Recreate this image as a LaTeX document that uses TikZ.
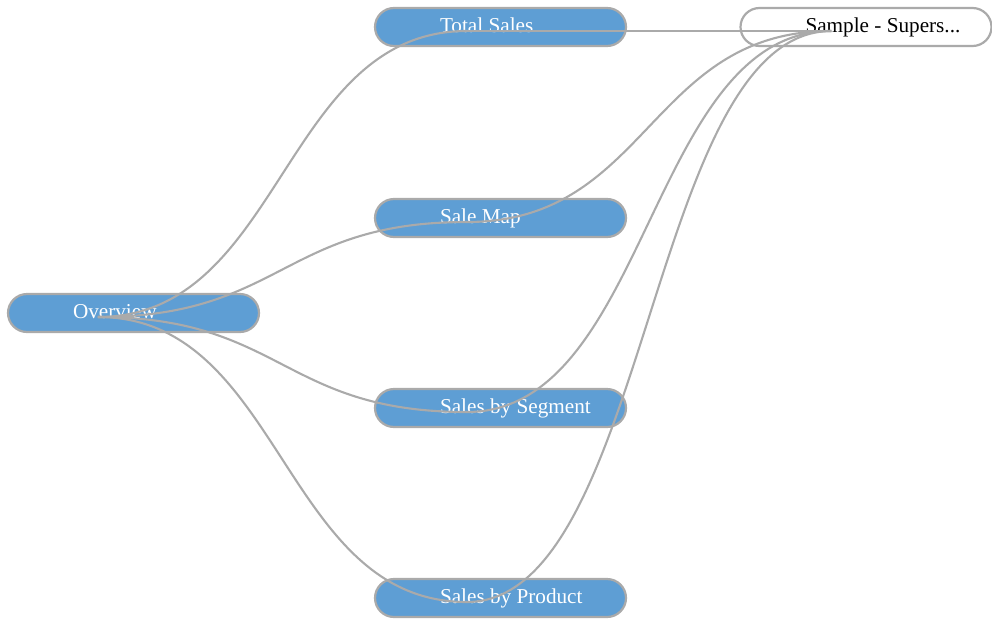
\documentclass[tikz,border=0pt]{standalone}
\usepackage{fontspec}
\setmainfont{Liberation Serif}
\usetikzlibrary{calc}
\definecolor{edgegray}{HTML}{AAAAAA}
\definecolor{nodeblue}{HTML}{5E9ED4}
\tikzset{
  pill/.style={draw=edgegray, line width=2.2pt, fill=nodeblue, text=white,
    rounded corners=19pt, minimum width=251pt, minimum height=38pt,
    inner sep=0pt, text height=12pt, text depth=1pt,
    font=\fontsize{21.2}{25}\selectfont},
  srcpill/.style={pill, fill=white, text=black},
  edge/.style={draw=edgegray, line width=2.1pt}
}
\newcommand\ptxt[1]{\hbox to 251pt{\hskip 65pt #1\hss}}
\newcommand\hlink[2]{\draw[edge] let \p1=(#1), \p2=(#2) in (#1) .. controls ({(\x1+\x2)/2},\y1) and ({(\x1+\x2)/2},\y2) .. (#2);}
\begin{document}
\begin{tikzpicture}[x=1pt,y=-1pt]
\useasboundingbox (0,0) rectangle (992,621);
\node[pill] (ov) at (133.5,313) {\ptxt{Overview}};
\node[pill] (ts) at (500.5,27) {\ptxt{Total Sales}};
\node[pill] (sm) at (500.5,218) {\ptxt{Sale Map}};
\node[pill] (sg) at (500.5,408) {\ptxt{Sales by Segment}};
\node[pill] (sp) at (500.5,598) {\ptxt{Sales by Product}};
\node[srcpill] (ss) at (866,27) {\ptxt{Sample - Supers...}};
\coordinate (ov-a) at ($(ov.west)+(91,4)$);
\coordinate (ts-a) at ($(ts.west)+(93,4)$);
\coordinate (sm-a) at ($(sm.west)+(93,4)$);
\coordinate (sg-a) at ($(sg.west)+(93,4)$);
\coordinate (sp-a) at ($(sp.west)+(93,4)$);
\coordinate (ss-a) at ($(ss.west)+(92,4)$);
\hlink{ov-a}{ts-a}
\hlink{ov-a}{sm-a}
\hlink{ov-a}{sg-a}
\hlink{ov-a}{sp-a}
\hlink{ts-a}{ss-a}
\hlink{sm-a}{ss-a}
\hlink{sg-a}{ss-a}
\hlink{sp-a}{ss-a}
\end{tikzpicture}
\end{document}
